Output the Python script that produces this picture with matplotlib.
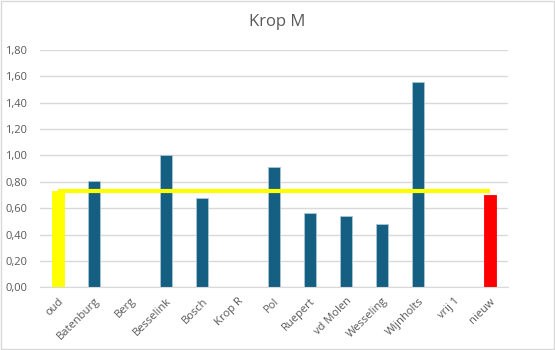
import matplotlib.pyplot as plt
from matplotlib.ticker import FuncFormatter, MultipleLocator

# Data
categories = ['oud', 'Batenburg', 'Berg', 'Besselink', 'Bosch', 'Krop R', 'Pol',
              'Ruepert', 'vd Molen', 'Wesseling', 'Wijnholts', 'vrij 1', 'nieuw']
values = [0.73, 0.81, 0, 1.00, 0.68, 0, 0.91, 0.56, 0.54, 0.48, 1.56, 0, 0.70]
reference = [0.73] * len(categories)

bar_colors = ['#FFFF00'] + ['#156082'] * 11 + ['#FF0000']
edge_colors = ['#FFFF00'] + ['#A9C6D6'] * 11 + ['#FF0000']

plt.rcParams['font.family'] = ['Open Sans', 'DejaVu Sans']

fig = plt.figure(figsize=(5.55, 3.5), dpi=100)
ax = fig.add_axes([40 / 555, 1 - 287.3 / 350, 468 / 555, 237.3 / 350])

x = list(range(len(categories)))
ax.bar(x, values, width=0.33, color=bar_colors, edgecolor=edge_colors,
       linewidth=0.6, zorder=2)
ax.plot(x, reference, color='#FFFF00', linewidth=3, zorder=3,
        solid_capstyle='butt')

ax.set_xlim(-0.5, len(categories) - 0.5)
ax.set_ylim(0, 1.8)
ax.yaxis.set_major_locator(MultipleLocator(0.2))
ax.yaxis.set_major_formatter(FuncFormatter(lambda v, p: f'{v:.2f}'.replace('.', ',')))
ax.grid(axis='y', color='#D9D9D9', linewidth=1, zorder=0)
ax.set_axisbelow(True)

for s in ['top', 'right', 'left']:
    ax.spines[s].set_visible(False)
ax.spines['bottom'].set_color('#D9D9D9')

ax.set_xticks(x)
ax.set_xticklabels(categories, rotation=45, ha='right', rotation_mode='anchor')
ax.tick_params(axis='both', length=0, labelsize=8, colors='#595959')
ax.tick_params(axis='x', pad=6)
ax.tick_params(axis='y', pad=9)

fig.text(0.5, 1 - 22 / 350, 'Krop M', ha='center', va='center',
         fontsize=12, color='#595959')

# border around the chart
fig.patches.append(plt.Rectangle((0.002, 0.003), 0.996, 0.994, transform=fig.transFigure,
                                 fill=False, edgecolor='#D9D9D9', linewidth=1))

fig.savefig('out.png', dpi=100)
